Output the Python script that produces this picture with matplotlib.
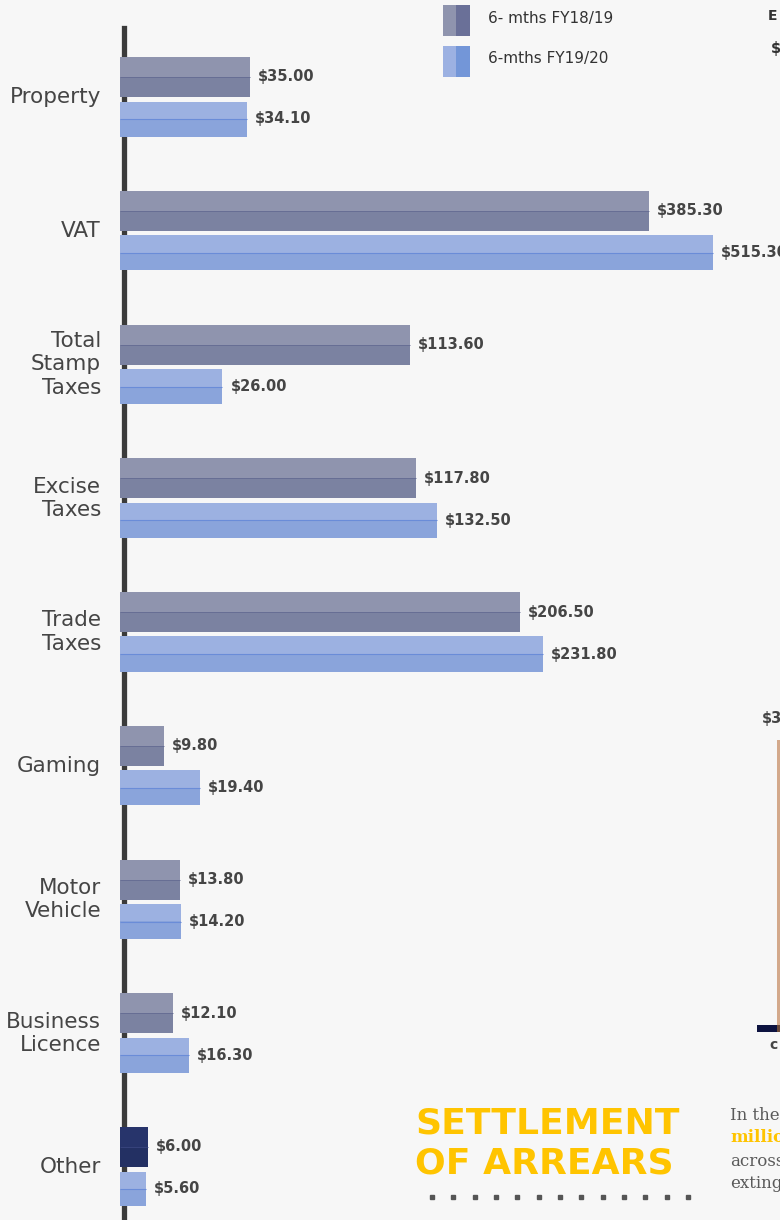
import numpy as np
import matplotlib
matplotlib.use("Agg")
import matplotlib.pyplot as plt
from matplotlib.lines import Line2D
from matplotlib.patches import Rectangle

# ---------------- data ----------------
categories = ["Property", "VAT", "Total\nStamp\nTaxes", "Excise\nTaxes", "Trade\nTaxes",
              "Gaming", "Motor\nVehicle", "Business\nLicence", "Other"]
fy1819 = [35.00, 385.30, 113.60, 117.80, 206.50, 9.80, 13.80, 12.10, 6.00]
fy1920 = [34.10, 515.30, 26.00, 132.50, 231.80, 19.40, 14.20, 16.30, 5.60]
series_names = ["6- mths FY18/19", "6-mths FY19/20"]

# ---------------- style ----------------
BG = "#F7F7F7"
TXT = "#454545"
C1_TOP, C1_BOT, C1_MID = "#8F94AE", "#7B82A1", "#646B92"
C1_TOP_O, C1_BOT_O, C1_MID_O = "#27346B", "#233063", "#3A4680"
C2_TOP, C2_BOT, C2_MID = "#9CB1E1", "#8AA4DB", "#6A8CD8"
YELLOW = "#FFC400"

W, H = 780, 1220
fig = plt.figure(figsize=(W / 100, H / 100), dpi=100, facecolor=BG)

ax_left = 120
ax = fig.add_axes([ax_left / W, 0, (W - ax_left) / W, 1])
ax.patch.set_alpha(0)
ax.axis("off")

C = 50.0
fwd = lambda v: np.log1p(np.asarray(v, dtype=float) / C)
inv = lambda u: C * np.expm1(np.asarray(u, dtype=float))
ax.set_xscale("function", functions=(fwd, inv))
# right limit chosen so the largest bar ends ~593 px from the axis
ax.set_xlim(0, float(inv(fwd(max(fy1920)) * (W - ax_left) / 593)))

spacing = 133.75
first = 97
ax.set_ylim((H - first) / spacing, -first / spacing)

y = np.arange(len(categories), dtype=float)
off1, h1 = -20 / spacing, 40 / spacing
off2, h2 = 22 / spacing, 35 / spacing

n = len(categories)
top1 = [C1_TOP] * (n - 1) + [C1_TOP_O]
bot1 = [C1_BOT] * (n - 1) + [C1_BOT_O]
mid1 = [C1_MID] * (n - 1) + [C1_MID_O]

y1 = y + off1
y2 = y + off2
ax.barh(y1, fy1819, height=h1, color=bot1, zorder=3)
ax.barh(y1 - h1 / 4, fy1819, height=h1 / 2, color=top1, zorder=3)
ax.hlines(y1, 0, fy1819, colors=mid1, lw=0.6, zorder=4)
ax.barh(y2, fy1920, height=h2, color=C2_BOT, zorder=3)
ax.barh(y2 - h2 / 4, fy1920, height=h2 / 2, color=C2_TOP, zorder=3)
ax.hlines(y2, 0, fy1920, colors=C2_MID, lw=0.8, zorder=4)

for yy, v in zip(y1, fy1819):
    ax.annotate(f"${v:,.2f}", xy=(v, yy), xytext=(8, 0), textcoords="offset pixels",
                va="center", ha="left", fontsize=10.5, fontweight="bold", color=TXT,
                annotation_clip=False)
for yy, v in zip(y2, fy1920):
    ax.annotate(f"${v:,.2f}", xy=(v, yy), xytext=(8, 0), textcoords="offset pixels",
                va="center", ha="left", fontsize=10.5, fontweight="bold", color=TXT,
                annotation_clip=False)

# category labels
for yy, cat in zip(y, categories):
    ax.annotate(cat, xy=(0, yy), xytext=(-19, 0), textcoords="offset pixels",
                ha="right", va="center", fontsize=15.5, color=TXT,
                linespacing=1.19, annotation_clip=False)

# vertical axis line (behind the bars)
fig.add_artist(Line2D([123.5 / W, 123.5 / W], [0, 1 - 28 / H], color="#3B3B3B",
                      lw=3.8, transform=fig.transFigure, zorder=-1))

# legend
def fx(px): return px / W
def fy(py): return 1 - py / H

leg = [(C1_TOP, "#6A7098", 5, series_names[0]), ("#9CB1E2", "#7396D8", 46, series_names[1])]
for lc, rc, top, lab in leg:
    fig.add_artist(Rectangle((fx(443), fy(top + 31)), 13 / W, 31 / H, color=lc,
                             transform=fig.transFigure, lw=0))
    fig.add_artist(Rectangle((fx(456), fy(top + 31)), 14 / W, 31 / H, color=rc,
                             transform=fig.transFigure, lw=0))
    fig.text(fx(488), fy(top + 13), lab, fontsize=11, color="#333333", va="center", ha="left")

# fragments of neighbouring content on the right
fig.text(fx(768), fy(16), "E", fontsize=10, fontweight="bold", color="#333333", va="center")
fig.text(fx(771), fy(48), "$", fontsize=10.5, fontweight="bold", color="#333333", va="center")
fig.text(fx(762), fy(718), "$3", fontsize=10.5, fontweight="bold", color=TXT, va="center")
fig.add_artist(Rectangle((fx(777), fy(1030)), 3 / W, 290 / H, color="#D3A98B",
                         transform=fig.transFigure, lw=0))
fig.add_artist(Rectangle((fx(757), fy(1032)), 20 / W, 7 / H, color="#0D1340",
                         transform=fig.transFigure, lw=0))
fig.add_artist(Rectangle((fx(777), fy(1032)), 3 / W, 7 / H, color="#6B4A3A",
                         transform=fig.transFigure, lw=0))
fig.text(fx(769), fy(1045), "c", fontsize=10, fontweight="bold", color=TXT, va="center")

# section heading
fig.text(fx(415), fy(1124), "SETTLEMENT", fontsize=26, fontweight="heavy", color=YELLOW,
         va="center", ha="left")
fig.text(fx(415), fy(1164), "OF ARREARS", fontsize=26, fontweight="heavy", color=YELLOW,
         va="center", ha="left")
dots_x = np.linspace(432, 688, 13)
fig.add_artist(Line2D(dots_x / W, np.full(13, fy(1197)), ls="none", marker="s",
                      markersize=3.4, color="#555555", transform=fig.transFigure))

serif = ["DejaVu Serif"]
fig.text(fx(730), fy(1115), "In the", fontsize=12, color="#5A5A5A", va="center", family=serif)
fig.text(fx(730), fy(1138), "million", fontsize=12, fontweight="bold", color=YELLOW,
         va="center", family=serif)
fig.text(fx(730), fy(1161), "across", fontsize=12, color="#5A5A5A", va="center", family=serif)
fig.text(fx(730), fy(1184), "extinguished", fontsize=12, color="#5A5A5A", va="center", family=serif)

fig.savefig("out.png", dpi=100, facecolor=BG)
